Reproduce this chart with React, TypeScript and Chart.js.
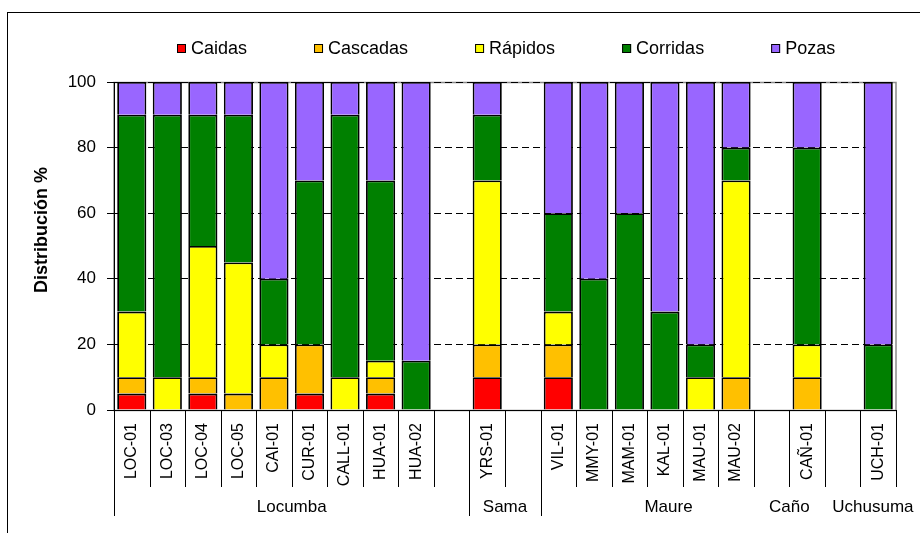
import { useEffect, useRef } from 'react';
import { Chart, registerables } from 'chart.js';

Chart.register(...registerables);

// Sampling stations along the x axis; empty strings are spacer slots between basins.
const stations = [
  'LOC-01', 'LOC-03', 'LOC-04', 'LOC-05', 'CAI-01', 'CUR-01', 'CALL-01', 'HUA-01', 'HUA-02', '',
  'YRS-01', '',
  'VIL-01', 'MMY-01', 'MAM-01', 'KAL-01', 'MAU-01', 'MAU-02', '',
  'CAÑ-01', '',
  'UCH-01',
];

// Habitat distribution (%) per station.
const caidas = [5, 0, 5, 0, 0, 5, 0, 5, 0, null, 10, null, 10, 0, 0, 0, 0, 0, null, 0, null, 0];
const cascadas = [5, 0, 5, 5, 10, 15, 0, 5, 0, null, 10, null, 10, 0, 0, 0, 0, 10, null, 10, null, 0];
const rapidos = [20, 10, 40, 40, 10, 0, 10, 5, 0, null, 50, null, 10, 0, 0, 0, 10, 60, null, 10, null, 0];
const corridas = [60, 80, 40, 45, 20, 50, 80, 55, 15, null, 20, null, 30, 40, 60, 30, 10, 10, null, 60, null, 20];
const pozas = [10, 10, 10, 10, 60, 30, 10, 30, 85, null, 10, null, 40, 60, 40, 70, 80, 20, null, 20, null, 80];

const seriesNames = ['Caidas', 'Cascadas', 'Rápidos', 'Corridas', 'Pozas'];
const seriesColors = ['#FF0000', '#FFC000', '#FFFF00', '#008000', '#9966FF'];

// Basin names for the second axis level, with the category position each name sits at.
const basins = ['Locumba', 'Sama', 'Maure', 'Caño', 'Uchusuma'];
const basinLabelAt = [4.5, 10.5, 15.1, 18.5, 20.85];
// Category boundaries (index of the first slot) that get a full-height basin divider.
const basinBreaks = [0, 10, 12];

const yTicks = [0, 20, 40, 60, 80, 100];

const FONT = '"Liberation Sans", Arial, Helvetica, sans-serif';

const decorations = {
  id: 'decorations',
  beforeDraw(chart: any) {
    const { ctx, chartArea: a } = chart;
    ctx.save();
    // outer frame of the figure
    ctx.strokeStyle = '#000';
    ctx.lineWidth = 1;
    ctx.strokeRect(7.5, 12.5, chart.width + 10, chart.height + 10);
    // plot area frame
    ctx.strokeStyle = '#8a8a8a';
    ctx.lineWidth = 1.5;
    ctx.strokeRect(a.left, a.top + 0.5, a.right - a.left, a.bottom - a.top);
    ctx.restore();
  },
  afterDraw(chart: any) {
    const { ctx, chartArea: a } = chart;
    const xs = chart.scales.x;
    ctx.save();

    // category and basin dividers below the axis
    ctx.strokeStyle = '#000';
    ctx.lineWidth = 1;
    for (let b = 0; b <= stations.length; b++) {
      const px = Math.round(xs.getPixelForValue(b - 0.5)) + 0.5;
      const long = basinBreaks.includes(b);
      ctx.beginPath();
      ctx.moveTo(px, a.bottom);
      ctx.lineTo(px, long ? 516 : 487);
      ctx.stroke();
    }

    // basin names
    ctx.fillStyle = '#000';
    ctx.font = `17px ${FONT}`;
    ctx.textAlign = 'center';
    ctx.textBaseline = 'alphabetic';
    basins.forEach((name, i) => {
      ctx.fillText(name, xs.getPixelForValue(basinLabelAt[i]), 511.5);
    });

    // y axis title
    ctx.save();
    ctx.translate(47, 230);
    ctx.rotate(-Math.PI / 2);
    ctx.font = `bold 18px ${FONT}`;
    ctx.textAlign = 'center';
    ctx.fillText('Distribución %', 0, 0);
    ctx.restore();

    // legend row
    ctx.font = `18px ${FONT}`;
    ctx.textAlign = 'left';
    let x = 177;
    chart.data.datasets.forEach((ds: any) => {
      ctx.fillStyle = ds.backgroundColor;
      ctx.fillRect(x, 44, 9, 9);
      ctx.strokeStyle = '#000';
      ctx.lineWidth = 1;
      ctx.strokeRect(x + 0.5, 44.5, 8, 8);
      ctx.fillStyle = '#000';
      ctx.fillText(ds.label, x + 14, 54);
      x += 14 + ctx.measureText(ds.label).width + 67;
    });

    ctx.restore();
  },
};

export default function App() {
  const canvasRef = useRef<HTMLCanvasElement | null>(null);

  useEffect(() => {
    if (!canvasRef.current) return;
    Chart.defaults.font.family = FONT;
    Chart.defaults.color = '#000';

    const values = [caidas, cascadas, rapidos, corridas, pozas];
    const chart = new Chart(canvasRef.current, {
      type: 'bar',
      data: {
        labels: stations,
        datasets: seriesNames.map((name, i) => ({
          label: name,
          data: values[i],
          backgroundColor: seriesColors[i],
          borderColor: '#000',
          borderWidth: 1.8,
          inflateAmount: 0,
          categoryPercentage: 0.82,
          barPercentage: 1,
        })),
      },
      options: {
        responsive: false,
        animation: false,
        layout: { padding: { left: 0, top: 82, right: 24, bottom: 0 } },
        plugins: {
          legend: { display: false },
          tooltip: { enabled: false },
        },
        scales: {
          x: {
            stacked: true,
            grid: { display: false },
            border: { display: true, color: '#000', width: 1 },
            ticks: {
              autoSkip: false,
              minRotation: 90,
              maxRotation: 90,
              padding: 5,
              color: '#000',
              font: { size: 16 },
            },
            afterFit(scale: any) {
              scale.height = 123;
            },
          },
          y: {
            stacked: true,
            min: 0,
            max: 100,
            afterBuildTicks(scale: any) {
              scale.ticks = yTicks.map((v) => ({ value: v }));
            },
            grid: {
              color: '#000',
              lineWidth: 1,
              drawTicks: true,
              tickLength: 7,
              tickColor: '#000',
              tickBorderDash: [],
            },
            border: { display: true, color: '#000', width: 1, dash: [7, 4] },
            ticks: { padding: 11, color: '#000', font: { size: 17 } },
            afterFit(scale: any) {
              scale.width = 114;
            },
          },
        },
      },
      plugins: [decorations],
    });
    return () => chart.destroy();
  }, []);

  return (
    <div style={{ position: 'absolute', left: 0, top: 0, width: 920, height: 533, background: '#fff' }}>
      <canvas ref={canvasRef} width={920} height={533} />
    </div>
  );
}
